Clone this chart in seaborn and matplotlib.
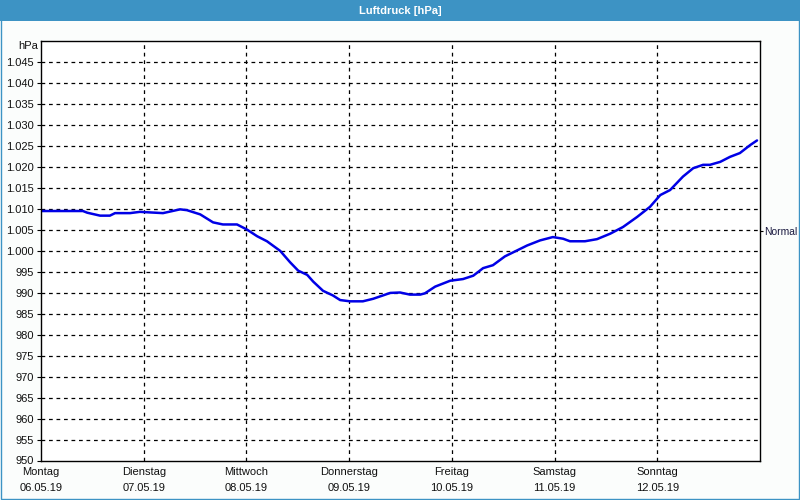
import matplotlib
matplotlib.use("Agg")
import matplotlib.pyplot as plt
import matplotlib.patches as mpatches
import seaborn as sns
import pandas as pd

# ---- data ----
hours = [0, 9.8, 10.8, 13.8, 16.1, 17.3, 20.8, 23.1, 28.5, 32.5, 34.1, 37.2, 40.2, 42.5,
         45.8, 48.1, 50.5, 52.8, 55.9, 58.2, 60.1, 62.2, 63.6, 65.9, 68.2, 69.9, 72.2,
         75.2, 77.6, 79.9, 81.6, 83.9, 86.2, 88.6, 89.7, 92.1, 95.6, 98.6, 101.0, 103.3,
         105.6, 108.4, 111.2, 113.6, 116.6, 119.6, 122.0, 123.6, 127.1, 129.9, 133.0,
         136.0, 139.3, 142.3, 144.7, 147.0, 150.0, 152.4, 154.7, 156.3, 158.7, 161.0,
         163.3, 165.7, 167.3]
pressure = [1009.4, 1009.4, 1009.0, 1008.3, 1008.3, 1008.9, 1008.9, 1009.2, 1008.9, 1009.8,
            1009.6, 1008.6, 1006.7, 1006.2, 1006.2, 1005.0, 1003.4, 1002.2, 999.9, 997.2,
            995.2, 994.2, 992.6, 990.4, 989.3, 988.2, 987.9, 987.9, 988.5, 989.3, 989.9,
            990.0, 989.5, 989.5, 989.8, 991.4, 992.8, 993.2, 994.0, 995.8, 996.5, 998.6,
            1000.0, 1001.2, 1002.4, 1003.2, 1002.8, 1002.2, 1002.2, 1002.7, 1004.0, 1005.6,
            1008.0, 1010.4, 1013.2, 1014.4, 1017.6, 1019.6, 1020.4, 1020.4, 1021.1, 1022.3,
            1023.2, 1025.1, 1026.2]
day_names = ["Montag", "Dienstag", "Mittwoch", "Donnerstag", "Freitag", "Samstag", "Sonntag"]
day_dates = ["06.05.19", "07.05.19", "08.05.19", "09.05.19", "10.05.19", "11.05.19", "12.05.19"]
y_ticks = list(range(950, 1050, 5))
normal_value = 1004.6
title = "Luftdruck [hPa]"

df = pd.DataFrame({"hours": hours, "pressure": pressure})

sns.set_theme(style="white")
plt.rcParams["font.family"] = ["Liberation Sans", "DejaVu Sans"]

FS = 8
BAR = "#3d93c4"
fig = plt.figure(figsize=(8, 5), dpi=100, facecolor="#fbfdfc")
ax = fig.add_axes([41 / 800, 1 - 460.5 / 500, 719 / 800, 420 / 500])
ax.set_facecolor("white")

sns.lineplot(data=df, x="hours", y="pressure", ax=ax, color="#0000e6", linewidth=1.8)

ax.set_xlim(0, 168)
ax.set_ylim(950, 1050)

ax.set_yticks(y_ticks)
ax.set_yticklabels([f"{v/1000:.3f}" if v >= 1000 else str(v) for v in y_ticks])
ax.set_xticks([24 * i for i in range(7)])
ax.set_xticklabels([f"{n}\n{d}" for n, d in zip(day_names, day_dates)], linespacing=1.7)

for v in y_ticks[1:]:
    ax.axhline(v, color="black", linestyle=(0, (3, 3)), linewidth=0.9, zorder=1)
for i in range(1, 7):
    ax.axvline(24 * i, color="black", linestyle=(0, (3, 3)), linewidth=0.9, zorder=1)

ax.tick_params(axis="y", length=3, width=0.8, color="black", labelsize=FS, pad=2,
               labelcolor="#111111", left=True)
ax.tick_params(axis="x", length=0, labelsize=FS, pad=5, labelcolor="#111111")
ax.set_xlabel("")
ax.set_ylabel("")
for s in ax.spines.values():
    s.set_visible(True)
    s.set_color("black")
    s.set_linewidth(1.0)

ax.text(-0.004, 1048.7, "hPa", transform=ax.get_yaxis_transform(), ha="right", va="center",
        fontsize=FS, color="#111111")

ax2 = ax.twinx()
ax2.set_ylim(950, 1050)
ax2.set_yticks([normal_value])
ax2.set_yticklabels(["Normal"])
ax2.tick_params(axis="y", length=2, width=0.8, color="black", labelsize=7.4, pad=1,
                labelcolor="#1a1a40")
ax2.grid(False)
for s in ax2.spines.values():
    s.set_visible(False)

# title bar and border
fig.patches.append(mpatches.Rectangle((0, 1 - 21 / 500), 1, 21 / 500, transform=fig.transFigure,
                                      facecolor=BAR, edgecolor="none", zorder=0))
fig.patches.append(mpatches.Rectangle((0.0008, 0.0012), 0.9984, 0.9976, transform=fig.transFigure,
                                      facecolor="none", edgecolor=BAR, linewidth=1.0, zorder=5))
fig.text(0.5, 1 - 10.5 / 500, title, ha="center", va="center", color="white",
         fontsize=FS, fontweight="bold")

fig.savefig("out.png", dpi=100, facecolor=fig.get_facecolor())
